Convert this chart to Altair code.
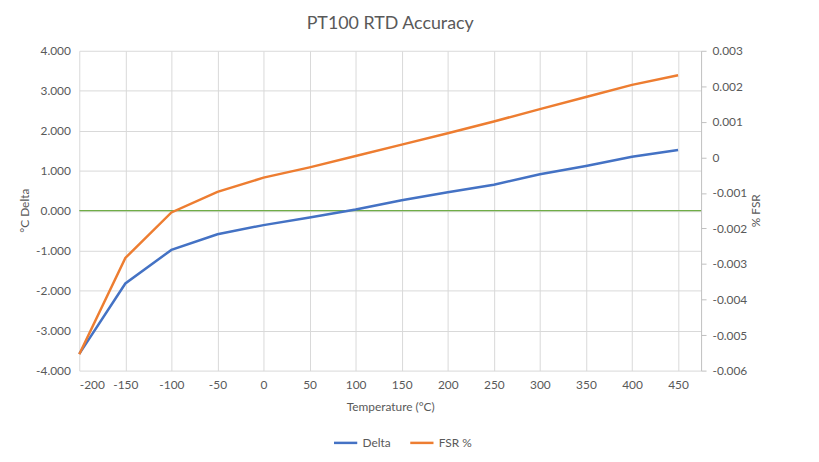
import altair as alt
import pandas as pd

temps = [-200, -150, -100, -50, 0, 50, 100, 150, 200, 250, 300, 350, 400, 450]
delta = [-3.58, -1.82, -0.98, -0.59, -0.36, -0.17, 0.03, 0.26, 0.46, 0.65, 0.91, 1.12, 1.35, 1.52]
fsr = [-0.00554, -0.00283, -0.00155, -0.00097, -0.00057, -0.00028, 0.00004, 0.00036,
       0.00068, 0.00101, 0.00136, 0.0017, 0.00204, 0.00231]
x_ticks = [-200, -150, -100, -50, 0, 50, 100, 150, 200, 250, 300, 350, 400, 450]
left_ticks = [-4, -3, -2, -1, 0, 1, 2, 3, 4]
right_ticks = [-0.006, -0.005, -0.004, -0.003, -0.002, -0.001, 0, 0.001, 0.002, 0.003]
series_names = ["Delta", "FSR %"]
series_colors = ["#4472C4", "#ED7D31"]

df = pd.DataFrame({"temp": temps, "delta": delta, "fsr": fsr})
zero_df = pd.DataFrame({"z": [0]})

FONT = "Lato"
GREY = "#595959"

x_enc = alt.X(
    "temp:Q",
    scale=alt.Scale(domain=[-200, 475], nice=False, zero=False),
    axis=alt.Axis(
        values=x_ticks, title="Temperature (°C)", grid=True, gridColor="#D9D9D9",
        domain=False, ticks=False, labelPadding=9, titlePadding=11,
        labelExpr="replace(format(datum.value, 'd'), '\u2212', '-')",
    ),
)

left_axis = alt.Axis(
    values=left_ticks, title="°C Delta", grid=True, gridColor="#D9D9D9",
    domain=False, ticks=False, labelPadding=9,
    labelExpr="replace(format(datum.value, '.3f'), '\u2212', '-')",
    titleX=-55, titleY=161, titleAngle=-90, titleBaseline="middle",
)
left_scale = alt.Scale(domain=[-4, 4], nice=False)

color_enc = alt.Color(
    "series:N",
    scale=alt.Scale(domain=series_names, range=series_colors),
    legend=alt.Legend(
        title=None, orient="none", direction="horizontal", legendX=256, legendY=383,
        symbolType="stroke", symbolStrokeWidth=2.5, symbolSize=550,
        labelFont=FONT, labelFontSize=12, labelColor=GREY, columnPadding=14,
    ),
)

zero_rule = alt.Chart(zero_df).mark_rule(color="#70AD47", strokeWidth=1.2).encode(
    y=alt.Y("z:Q", scale=left_scale, axis=left_axis),
)

blue = alt.Chart(df).transform_calculate(series="'Delta'").mark_line(strokeWidth=2.5).encode(
    x=x_enc,
    y=alt.Y("delta:Q", scale=left_scale, axis=left_axis),
    color=color_enc,
)

orange = alt.Chart(df).transform_calculate(series="'FSR %'").mark_line(strokeWidth=2.5).encode(
    x=x_enc,
    y=alt.Y(
        "fsr:Q",
        scale=alt.Scale(domain=[-0.006, 0.003], nice=False),
        axis=alt.Axis(
            orient="right", values=right_ticks, title="% FSR", grid=False,
            domain=True, domainColor="#BFBFBF", ticks=True, tickColor="#BFBFBF", tickSize=5,
            labelPadding=6,
            labelExpr="abs(datum.value) < 1e-9 ? '0' : replace(format(datum.value, '.3f'), '\u2212', '-')",
            titleX=55, titleY=161, titleAngle=-90, titleBaseline="middle",
        ),
    ),
    color=color_enc,
)

left = alt.layer(zero_rule, blue)

chart = alt.layer(left, orange).resolve_scale(y="independent").properties(
    width=628,
    height=323,
    autosize="none",
    padding={"left": 72, "top": 41, "right": 111, "bottom": 82},
    title=alt.TitleParams(
        "PT100 RTD Accuracy", font=FONT, fontSize=18, fontWeight="normal",
        color=GREY, anchor="middle", offset=12,
    ),
).configure_axis(
    labelFont=FONT, labelFontSize=12, labelColor=GREY,
    titleFont=FONT, titleFontSize=12, titleColor=GREY, titleFontWeight="normal",
).configure_view(stroke=None)

chart.save("out.html", embed_options={"renderer": "svg", "actions": False})
